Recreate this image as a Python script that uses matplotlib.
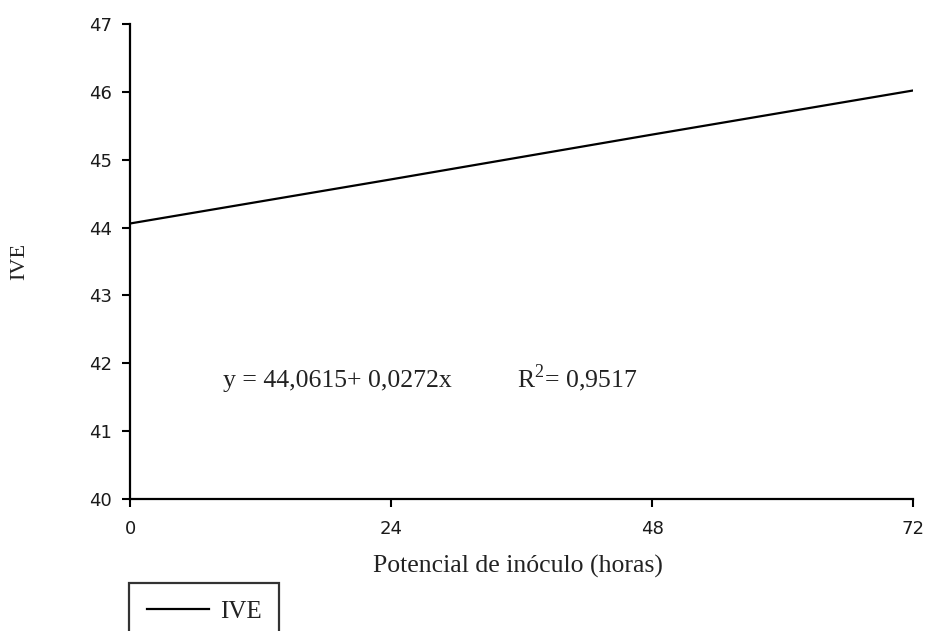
import matplotlib
matplotlib.use("Agg")
import matplotlib.pyplot as plt

# fitted line (hours, IVE)
hours = [0, 24, 48, 72]
ive = [44.06, 44.71, 45.37, 46.02]

xticks = [0, 24, 48, 72]
yticks = [40, 41, 42, 43, 44, 45, 46, 47]

eq_text = "y = 44,0615+ 0,0272x"
r2_text = "R$^2$= 0,9517"

serif = "Liberation Serif"
sans = "DejaVu Sans"
plt.rcParams["mathtext.fontset"] = "custom"
plt.rcParams["mathtext.rm"] = serif

W, H = 927, 631
fig = plt.figure(figsize=(W/100, H/100), dpi=100)
ax = fig.add_axes([130/W, 1-499/H, (913-130)/W, (499-24)/H])

line, = ax.plot(hours, ive, color="black", lw=1.6, label="IVE")

ax.set_xlim(0, 72)
ax.set_ylim(40, 47)
ax.set_xticks(xticks)
ax.set_yticks(yticks)
for lab in ax.get_xticklabels() + ax.get_yticklabels():
    lab.set_family(sans)
    lab.set_fontsize(13)
    lab.set_color("#1a1a1a")
ax.tick_params(direction="out", length=6, width=1.5, color="black")
ax.tick_params(axis="y", pad=7)
ax.tick_params(axis="x", pad=9)

for s in ["top", "right"]:
    ax.spines[s].set_visible(False)
for s in ["left", "bottom"]:
    ax.spines[s].set_linewidth(1.6)

fig.text(518/W, 1-573/H, "Potencial de inóculo (horas)", family=serif,
         fontsize=18.5, ha="center", va="baseline", color="#222222")
fig.text(20/W, 1-261/H, "IVE", rotation=90, family=serif, fontsize=16,
         ha="center", va="center", color="#222222")

fig.text(223/W, 1-387/H, eq_text, family=serif, fontsize=18.5,
         va="baseline", ha="left", color="#222222")
fig.text(517/W, 1-387/H, r2_text, family=serif, fontsize=18.5,
         va="baseline", ha="left", color="#222222")

leg = fig.legend(handles=[line], labels=["IVE"], loc="upper left",
                 bbox_to_anchor=(129/W, 1-583/H), fancybox=False,
                 prop={"family": serif, "size": 18}, handlelength=2.5,
                 handletextpad=0.45, borderpad=0.7, borderaxespad=0)
leg.get_frame().set_edgecolor("black")
leg.get_frame().set_linewidth(1.6)
for t in leg.get_texts():
    t.set_color("#222222")

fig.savefig("out.png", dpi=100)
